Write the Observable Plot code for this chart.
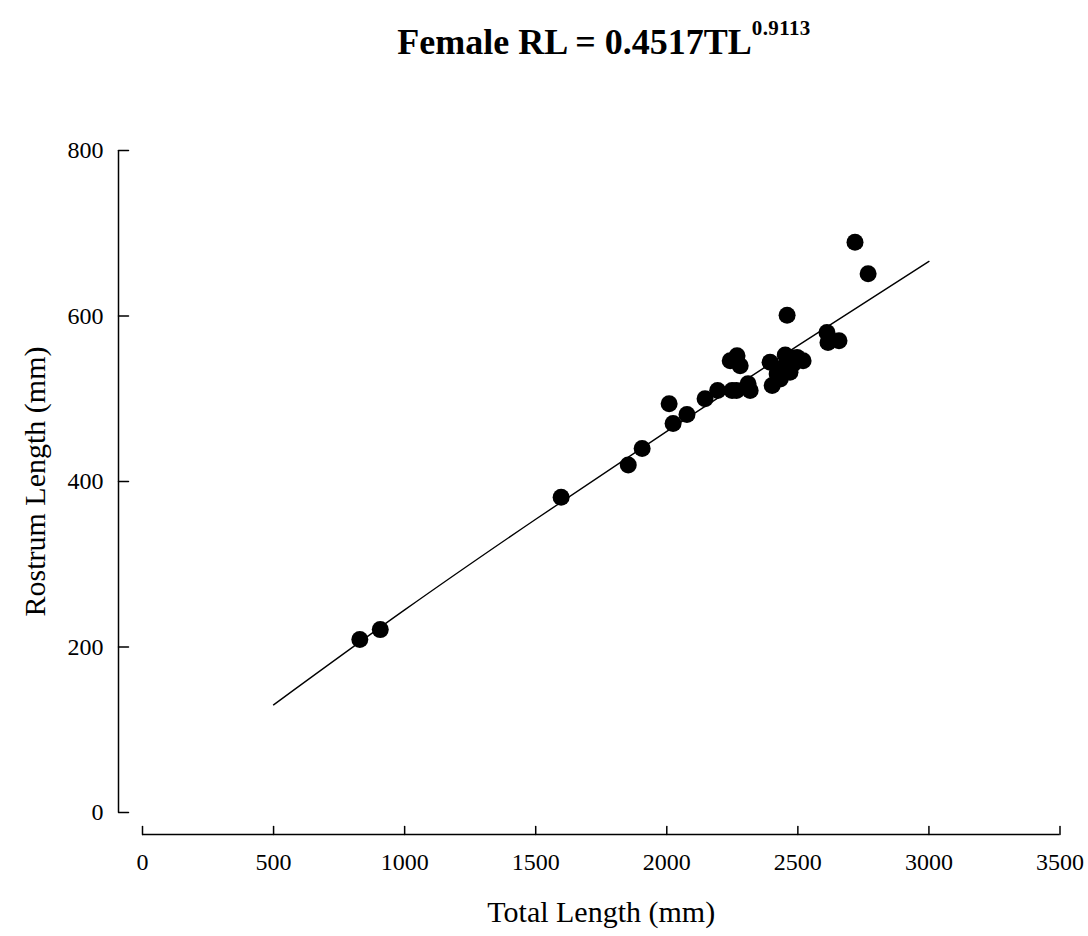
<!DOCTYPE html>
<html>
<head>
<meta charset="utf-8">
<script src="https://cdn.jsdelivr.net/npm/d3@7"></script>
<script src="https://cdn.jsdelivr.net/npm/@observablehq/plot@0.6"></script>
<style>
  html, body { margin: 0; padding: 0; background: #fff; }
  #title { height: 90px; width: 1088px; position: relative; overflow: hidden; font-family: "Liberation Serif", "Times New Roman", serif; }
  #title div { position: absolute; left: 0; width: 1208px; top: 24px; line-height: 36px; text-align: center; font-weight: bold; font-size: 36px; color: #000; white-space: nowrap; }
  #title span { font-size: 21px; letter-spacing: 0.4px; position: relative; top: -19px; vertical-align: baseline; }
</style>
</head>
<body>
<div id="title"><div>Female RL = 0.4517TL<span>0.9113</span></div></div>
<div id="chart"></div>
<script>
const totalLength = [829, 907, 1597, 1853, 1906, 2009, 2024, 2077, 2146, 2194, 2242, 2268, 2280, 2249, 2266, 2310, 2318,
  2394, 2402, 2421, 2433, 2444, 2452, 2470, 2470, 2482, 2497, 2520, 2459, 2611, 2615, 2657, 2718, 2768];
const rostrumLength = [209, 221, 381, 420, 440, 494, 470, 481, 500, 510, 546, 552, 540, 510, 510, 518, 510,
  544, 516, 530, 524, 538, 553, 550, 532, 542, 550, 546, 601, 580, 568, 570, 689, 651];
const fitTL = [500, 1000, 1500, 2000, 2500, 3000];
const fitRL = [130.1, 244.8, 354.4, 460.6, 564.1, 666.0];
const xTicks = [0, 500, 1000, 1500, 2000, 2500, 3000, 3500];
const yTicks = [0, 200, 400, 600, 800];

const points = totalLength.map((t, i) => ({tl: t, rl: rostrumLength[i]}));
const fit = fitTL.map((t, i) => ({tl: t, rl: fitRL[i]}));

const tickShape = { draw(context, l) { context.moveTo(0, 0); context.lineTo(0, -l); } };

const chart = Plot.plot({
  width: 1088,
  height: 846,
  marginLeft: 142,
  marginRight: 28.5,
  marginTop: 60,
  marginBottom: 124,
  style: { fontFamily: "'Liberation Serif', 'Times New Roman', serif", fontSize: "24px", background: "#fff", color: "#000" },
  x: { domain: [0, 3500] },
  y: { domain: [0, 800] },
  marks: [
    // y axis
    Plot.ruleX([0], { y1: 0, y2: 800, dx: -24, stroke: "#000", strokeWidth: 1.5 }),
    Plot.vector(yTicks, { x: 0, y: d => d, length: 10, rotate: 90, anchor: "start", shape: tickShape, dx: -24, stroke: "#000", strokeWidth: 1.5 }),
    Plot.axisY({ ticks: yTicks, tickFormat: d => String(d), anchor: "left", dx: -24, tickSize: 0, tickPadding: 15, fontSize: 24, label: null }),
    Plot.text(["Rostrum Length (mm)"], { x: 0, y: 400, dx: -107, rotate: -90, fontSize: 30, text: d => d, fill: "#000" }),
    // x axis
    Plot.ruleY([0], { x1: 0, x2: 3500, dy: 22, stroke: "#000", strokeWidth: 1.5 }),
    Plot.vector(xTicks, { x: d => d, y: 0, length: 8, rotate: 0, anchor: "start", shape: tickShape, dy: 22, stroke: "#000", strokeWidth: 1.5 }),
    Plot.axisX({ ticks: xTicks, tickFormat: d => String(d), anchor: "bottom", dy: 22, tickSize: 0, tickPadding: 18, fontSize: 24, label: null }),
    Plot.text(["Total Length (mm)"], { x: 1750, y: 0, dy: 100, fontSize: 30, text: d => d, fill: "#000" }),
    // fit line
    Plot.line(fit, { x: "tl", y: "rl", stroke: "#000", strokeWidth: 1.4, curve: "natural" }),
    // points
    Plot.dot(points, { x: "tl", y: "rl", r: 8.5, fill: "#000", stroke: "none" })
  ]
});
document.getElementById("chart").appendChild(chart);
</script>
</body>
</html>
